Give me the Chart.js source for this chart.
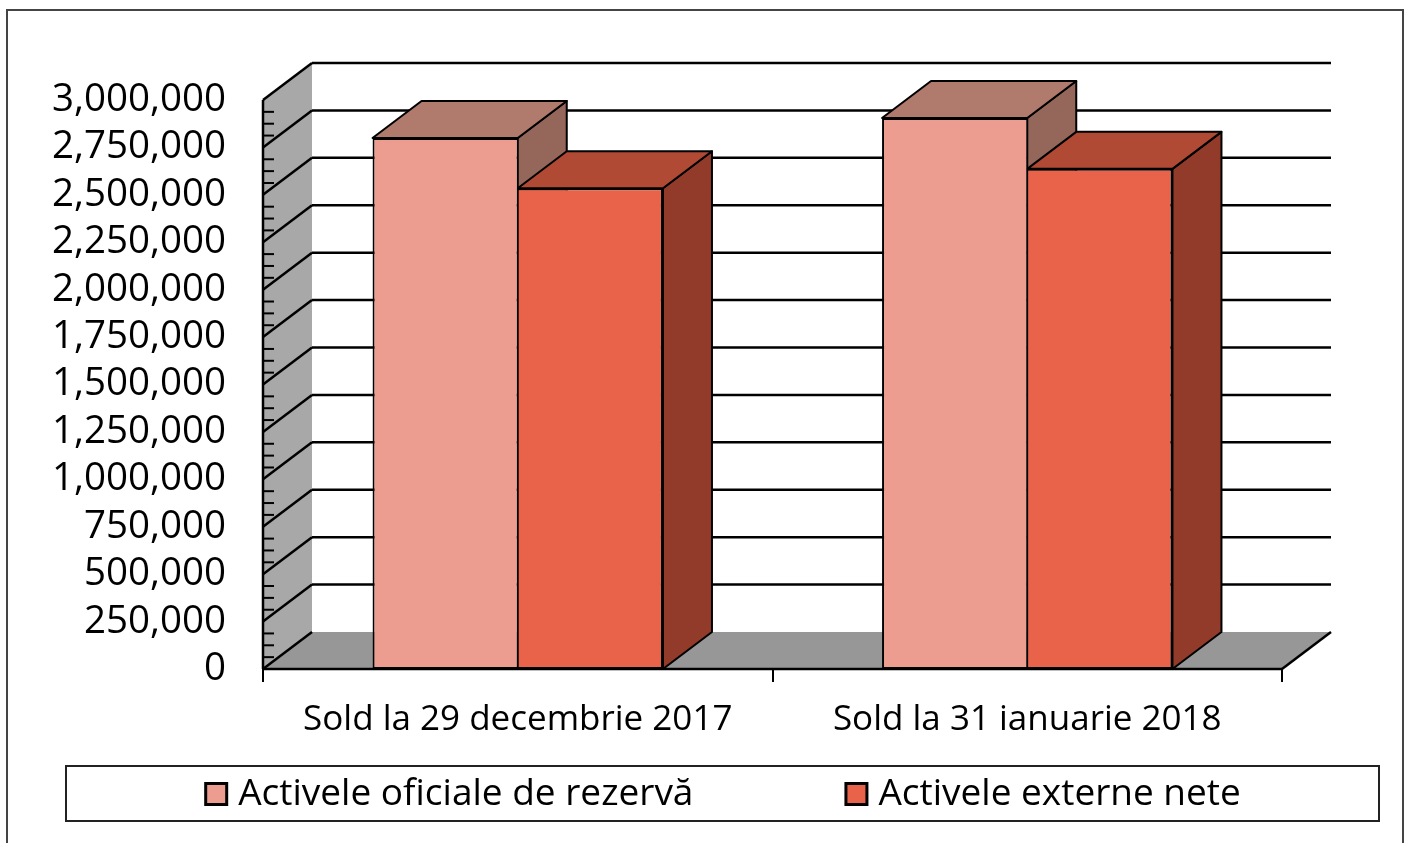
<!DOCTYPE html>
<html>
<head>
<meta charset="utf-8">
<script src="https://cdn.jsdelivr.net/npm/chart.js@4.4.1/dist/chart.umd.min.js"></script>
<style>
  html, body { margin: 0; padding: 0; background: #fff; }
  #wrap { width: 1409px; height: 843px; }
</style>
</head>
<body>
<div id="wrap"><canvas id="chart" width="1409" height="843"></canvas></div>
<script>
const categories = ['Sold la 29 decembrie 2017', 'Sold la 31 ianuarie 2018'];
const seriesNames = ['Activele oficiale de rezervă', 'Activele externe nete'];
const rezerva = [2800000, 2905000];
const externe = [2535000, 2637000];
const yMin = 0, yMax = 3000000, yStep = 250000;

const frontColors = ['#ec9d8f', '#e8634a'];
const topColors = ['#b07a6c', '#b04a35'];
const sideColors = ['#95665a', '#933b2a'];
const DX = 49, DY = -37;   // depth of the 3d box

function poly(ctx, pts, fill, stroke) {
    ctx.beginPath();
    ctx.moveTo(pts[0][0], pts[0][1]);
    for (let i = 1; i < pts.length; i++) ctx.lineTo(pts[i][0], pts[i][1]);
    ctx.closePath();
    if (fill) { ctx.fillStyle = fill; ctx.fill(); }
    if (stroke) { ctx.strokeStyle = stroke; ctx.lineWidth = 2; ctx.lineJoin = 'round'; ctx.stroke(); }
}

function line(ctx, x1, y1, x2, y2, w) {
    ctx.beginPath();
    ctx.moveTo(x1, y1);
    ctx.lineTo(x2, y2);
    ctx.lineWidth = w || 2;
    ctx.strokeStyle = '#000';
    ctx.stroke();
}

const box3d = {
    id: 'box3d',
    beforeDraw(chart) {
        const ctx = chart.ctx;
        ctx.save();
        ctx.fillStyle = '#fff';
        ctx.fillRect(0, 0, chart.width, chart.height);
        ctx.strokeStyle = '#444';
        ctx.lineWidth = 2;
        ctx.strokeRect(7, 10, 1396, 860);
        ctx.restore();
    },
    beforeDatasetsDraw(chart) {
        const { ctx, chartArea: a, scales: { x, y } } = chart;
        ctx.save();
        const ticks = y.ticks.map(t => t.value);

        // back wall grid lines
        ticks.forEach(v => {
            if (v === yMin) return;
            const py = y.getPixelForValue(v);
            line(ctx, a.left + DX, py + DY, a.right + DX, py + DY, 2.5);
        });

        // left wall
        poly(ctx, [[a.left, a.top], [a.left + DX, a.top + DY], [a.left + DX, a.bottom + DY], [a.left, a.bottom]], '#a8a8a8');
        // floor
        poly(ctx, [[a.left, a.bottom], [a.right, a.bottom], [a.right + DX, a.bottom + DY], [a.left + DX, a.bottom + DY]], '#979797');

        // wall diagonals
        ticks.forEach(v => {
            const py = y.getPixelForValue(v);
            line(ctx, a.left, py, a.left + DX, py + DY, 2.5);
        });
        line(ctx, a.right, a.bottom, a.right + DX, a.bottom + DY, 2.5);

        // front axis with minor ticks
        line(ctx, a.left, a.top, a.left, a.bottom, 2.5);
        for (let i = 0; i < ticks.length - 1; i++) {
            for (let k = 1; k < 4; k++) {
                const py = y.getPixelForValue(ticks[i] + (ticks[i + 1] - ticks[i]) * k / 4);
                line(ctx, a.left, py, a.left + 11, py, 2);
            }
        }
        line(ctx, a.left, a.bottom, a.right, a.bottom, 2.5);

        // bar tops and sides
        const metas = chart.data.datasets.map((d, i) => chart.getDatasetMeta(i));
        categories.forEach((c, i) => {
            metas.forEach((meta, d) => {
                const el = meta.data[i];
                const l = el.x - el.width / 2, r = el.x + el.width / 2;
                const t = el.y, b = el.base;
                poly(ctx, [[r, t], [r + DX, t + DY], [r + DX, b + DY], [r, b]], sideColors[d], '#000');
                poly(ctx, [[l, t], [r, t], [r + DX, t + DY], [l + DX, t + DY]], topColors[d], '#000');
            });
        });
        ctx.restore();
    },
    afterDraw(chart) {
        const ctx = chart.ctx;
        ctx.save();
        // legend box
        ctx.strokeStyle = '#222';
        ctx.lineWidth = 2;
        ctx.strokeRect(66, 766, 1313, 55);
        ctx.font = '37px "Open Sans"';
        ctx.textBaseline = 'middle';
        const items = chart.data.datasets.map(ds => ({ text: ds.label, color: ds.backgroundColor }));
        const sq = 24, gap = 10, itemGap = 151;
        const widths = items.map(it => sq + gap + ctx.measureText(it.text).width);
        const total = widths.reduce((s, w) => s + w, 0) + itemGap * (items.length - 1);
        let px = (66 + 1379) / 2 - total / 2;
        const cy = 794;
        items.forEach((it, i) => {
            ctx.fillStyle = '#000';
            ctx.fillRect(px, cy - sq / 2, sq, sq);
            ctx.fillStyle = it.color;
            ctx.fillRect(px + 3, cy - sq / 2 + 3, sq - 6, sq - 6);
            ctx.fillStyle = '#000';
            ctx.fillText(it.text, px + sq + gap, cy);
            px += widths[i] + itemGap;
        });
        ctx.restore();
    }
};

Chart.defaults.font.family = '"Open Sans"';
Chart.defaults.color = '#000';

new Chart(document.getElementById('chart'), {
    type: 'bar',
    data: {
        labels: categories,
        datasets: [
            { label: seriesNames[0], data: rezerva, backgroundColor: frontColors[0], borderColor: '#000',
              borderWidth: { left: 2, top: 2, right: 1, bottom: 2 }, borderSkipped: false },
            { label: seriesNames[1], data: externe, backgroundColor: frontColors[1], borderColor: '#000',
              borderWidth: { left: 1, top: 2, right: 2, bottom: 2 }, borderSkipped: false }
        ]
    },
    options: {
        responsive: false,
        animation: false,
        events: [],
        categoryPercentage: 0.57,
        barPercentage: 1.0,
        layout: { padding: { left: 0, right: 127, top: 100, bottom: 94 } },
        plugins: { legend: { display: false }, tooltip: { enabled: false } },
        scales: {
            x: {
                grid: { display: true, drawOnChartArea: false, drawTicks: true, tickLength: 13,
                        color: '#000', lineWidth: 2, offset: true },
                border: { display: false },
                ticks: { font: { size: 35 }, padding: 17, maxRotation: 0 },
                afterFit(s) { s.height = 80; }
            },
            y: {
                min: yMin, max: yMax,
                grid: { display: false, drawTicks: false },
                border: { display: false },
                ticks: { stepSize: yStep, font: { size: 38.5, lineHeight: 1 }, padding: 37, autoSkip: false,
                         callback: v => v.toLocaleString('en-US') },
                afterFit(s) { s.width = 263; }
            }
        }
    },
    plugins: [box3d]
});
</script>
</body>
</html>
